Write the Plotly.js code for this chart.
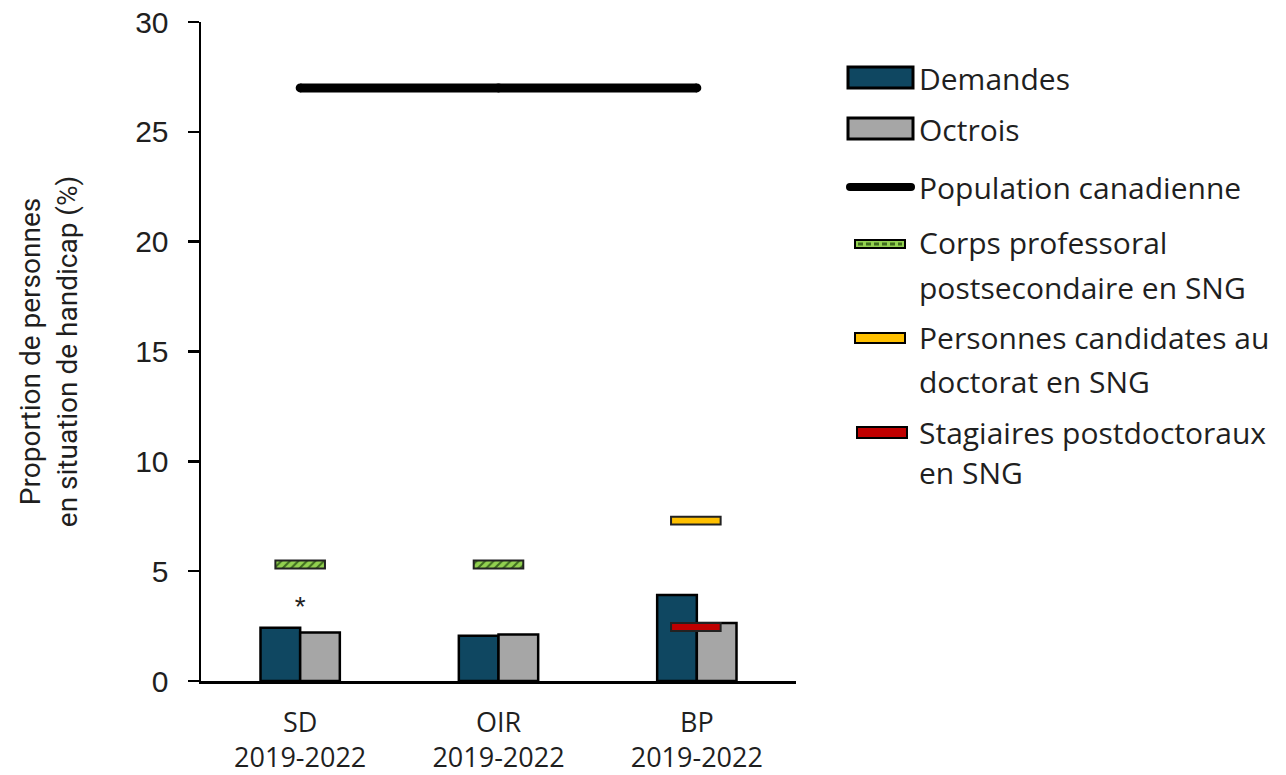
<!DOCTYPE html>
<html>
<head>
<meta charset="utf-8">
<script src="https://cdn.plot.ly/plotly-3.0.1.min.js"></script>
<style>
  html, body { margin: 0; padding: 0; background: #ffffff; }
  #chart { width: 1286px; height: 775px; }
</style>
</head>
<body>
<div id="chart"></div>
<script>
// ---------------- Data ----------------
const programmes = ['SD', 'OIR', 'BP'];
const periodes = ['2019-2022', '2019-2022', '2019-2022'];
const demandes = [2.42, 2.06, 3.91];
const octrois = [2.21, 2.12, 2.64];
const populationCanadienne = [27, 27, 27];
const corpsProfessoral = [5.30, 5.30, null];
const candidatsDoctorat = [null, null, 7.30];
const stagiairesPostdoc = [null, null, 2.46];
const asterisque = ['*', '', ''];
const asterisqueY = [3.30, null, null];

const legendLabels = [
  ['Demandes'],
  ['Octrois'],
  ['Population canadienne'],
  ['Corps professoral', 'postsecondaire en SNG'],
  ['Personnes candidates au', 'doctorat en SNG'],
  ['Stagiaires postdoctoraux', 'en SNG']
];
const yTitle = 'Proportion de personnes<br>en situation de handicap (%)';

// ---------------- Styles ----------------
const W = 1286, H = 775;
const M = { l: 201, r: 490, t: 22, b: 94 };
const plotW = W - M.l - M.r, plotH = H - M.t - M.b;
const px = x => (x - M.l) / plotW;
const py = y => (H - M.b - y) / plotH;

const cDem = '#0F4761', cOct = '#A6A6A6', cGreen = '#92D050', cGreenFg = '#3E6B1E',
      cYel = '#FFC000', cRed = '#C00000', cTxt = '#1f1f1f';

const xs = programmes.map((_, i) => i);
const tickText = programmes.map((p, i) => p + '<br>' + periodes[i]);

const markH = 0.36;  // thickness of the reference markers (data units)
const baseOf = arr => arr.map(v => v == null ? null : v - markH / 2);
const hOf = arr => arr.map(v => v == null ? null : markH);

const traces = [
  { type: 'bar', name: 'Demandes', x: xs, y: demandes, offset: -0.2, width: 0.2,
    marker: { color: cDem, line: { color: '#000', width: 2.5 } }, showlegend: false, hoverinfo: 'y' },
  { type: 'bar', name: 'Octrois', x: xs, y: octrois, offset: 0, width: 0.2,
    marker: { color: cOct, line: { color: '#000', width: 2.5 } }, showlegend: false, hoverinfo: 'y' },
  { type: 'scatter', mode: 'lines+markers', name: 'Population canadienne', x: [xs[0], xs[1], xs[2]], y: populationCanadienne,
    line: { color: '#000', width: 9 }, marker: { color: '#000', size: 9 }, showlegend: false },
  { type: 'bar', name: 'Corps professoral postsecondaire en SNG', x: xs, y: hOf(corpsProfessoral), base: baseOf(corpsProfessoral),
    offset: -0.125, width: 0.25,
    marker: { color: cGreen, line: { color: '#222', width: 2 },
      pattern: { shape: '/', fgcolor: cGreenFg, bgcolor: cGreen, size: 6, solidity: 0.35 } },
    showlegend: false },
  { type: 'bar', name: 'Personnes candidates au doctorat en SNG', x: xs, y: hOf(candidatsDoctorat), base: baseOf(candidatsDoctorat),
    offset: -0.13, width: 0.25,
    marker: { color: cYel, line: { color: '#222', width: 2 } }, showlegend: false },
  { type: 'bar', name: 'Stagiaires postdoctoraux en SNG', x: xs, y: hOf(stagiairesPostdoc), base: baseOf(stagiairesPostdoc),
    offset: -0.13, width: 0.25,
    marker: { color: cRed, line: { color: '#222', width: 2 } }, showlegend: false },
  { type: 'scatter', mode: 'text', x: xs, y: asterisqueY, text: asterisque,
    textfont: { family: 'Liberation Sans, Arial', size: 28, color: '#222' }, showlegend: false, hoverinfo: 'skip' }
];

// ---------------- Custom legend ----------------
const shapes = [];
const annotations = [];
const legendItems = [
  { kind: 'rect', x0: 848, x1: 913, y0: 67, y1: 88, fill: cDem, ty: [78] },
  { kind: 'rect', x0: 848, x1: 913, y0: 118, y1: 139, fill: cOct, ty: [129] },
  { kind: 'line', x0: 850, x1: 911, y: 187, ty: [187] },
  { kind: 'rect', x0: 855, x1: 905, y0: 240, y1: 248, fill: cGreen, hatch: true, ty: [243, 287] },
  { kind: 'rect', x0: 855, x1: 905, y0: 333, y1: 343, fill: cYel, ty: [337, 381] },
  { kind: 'rect', x0: 857, x1: 907, y0: 427, y1: 438, fill: cRed, ty: [432, 472] }
];
legendItems.forEach((it, i) => {
  if (it.kind === 'rect') {
    shapes.push({ type: 'rect', xref: 'paper', yref: 'paper',
      x0: px(it.x0), x1: px(it.x1), y0: py(it.y1), y1: py(it.y0),
      fillcolor: it.fill, line: { color: '#000', width: it.y1 - it.y0 > 15 ? 3 : 2 } });
    if (it.hatch) {
      shapes.push({ type: 'line', xref: 'paper', yref: 'paper',
        x0: px(it.x0 + 3), x1: px(it.x1 - 3), y0: py((it.y0 + it.y1) / 2), y1: py((it.y0 + it.y1) / 2),
        line: { color: cGreenFg, width: 3, dash: '5px,3px' } });
    }
  } else {
    shapes.push({ type: 'line', xref: 'paper', yref: 'paper',
      x0: px(it.x0), x1: px(it.x1), y0: py(it.y), y1: py(it.y), line: { color: '#000', width: 8 } });
    [it.x0, it.x1].forEach(cx => shapes.push({ type: 'circle', xref: 'paper', yref: 'paper',
      x0: px(cx - 4), x1: px(cx + 4), y0: py(it.y + 4), y1: py(it.y - 4),
      fillcolor: '#000', line: { width: 0 } }));
  }
  legendLabels[i].forEach((t, j) => {
    annotations.push({ xref: 'paper', yref: 'paper', x: px(917), y: py(it.ty[j]),
      xanchor: 'left', yanchor: 'middle', showarrow: false, text: t,
      font: { family: 'Open Sans', size: 30, color: cTxt } });
  });
});

const layout = {
  width: W, height: H,
  margin: M,
  paper_bgcolor: '#fff', plot_bgcolor: '#fff',
  barmode: 'overlay',
  showlegend: false,
  xaxis: {
    range: [-0.5, 2.5], tickmode: 'array', tickvals: xs, ticktext: tickText,
    showgrid: false, zeroline: false, showline: true, linecolor: '#000', linewidth: 2.5,
    ticks: '', ticklabelstandoff: 16,
    tickfont: { family: 'Open Sans', size: 27, color: cTxt }
  },
  yaxis: {
    range: [0, 30], tickvals: [0, 5, 10, 15, 20, 25, 30],
    showgrid: false, zeroline: false, showline: true, linecolor: '#000', linewidth: 2.5,
    ticks: 'outside', ticklen: 11, tickwidth: 2.5, tickcolor: '#000',
    ticklabelstandoff: 13,
    tickfont: { family: 'Liberation Sans, Arial', size: 30, color: cTxt },
    title: { text: yTitle, standoff: 50, font: { family: 'Roboto', size: 28, color: cTxt } }
  },
  shapes: shapes,
  annotations: annotations
};

Plotly.newPlot('chart', traces, layout, { displayModeBar: false, staticPlot: true });
</script>
</body>
</html>
